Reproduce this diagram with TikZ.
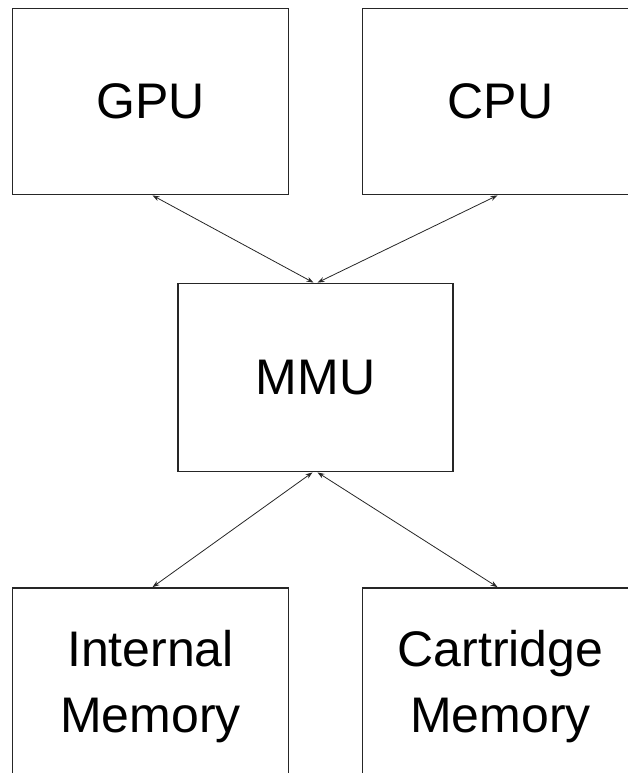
\documentclass[tikz,border=0pt]{standalone}
\usepackage{fontspec}
\setmainfont{Liberation Sans}
\usetikzlibrary{arrows.meta}
\begin{document}
\begin{tikzpicture}[x=1pt,y=-1pt,
  unitbox/.style={draw=black!85,line width=1.8pt,minimum width=276pt,minimum height=186pt,inner sep=0pt,align=center,font=\fontsize{50}{66}\selectfont},
  link/.style={line width=0.8pt,draw=black!85,{Stealth[length=7pt,width=5pt]}-{Stealth[length=7pt,width=5pt]}}]
\useasboundingbox (0,0) rectangle (628,773);
\clip (0,0) rectangle (628,773);
\node[unitbox] (gpu) at (150.5,101.5) {GPU};
\node[unitbox] (cpu) at (500.5,101.5) {CPU};
\node[unitbox,minimum width=275pt,minimum height=188pt] (mmu) at (315.5,377.5) {MMU};
\node[unitbox,minimum height=198pt] (imem) at (150.5,687) {Internal\\Memory};
\node[unitbox,minimum height=198pt] (cmem) at (500.5,687) {Cartridge\\Memory};
\draw[link] ([xshift=2pt]gpu.south) -- ([xshift=-2pt]mmu.north);
\draw[link] ([xshift=-3pt]cpu.south) -- ([xshift=2pt]mmu.north);
\draw[link] ([xshift=-3pt]mmu.south) -- ([xshift=2pt]imem.north);
\draw[link] ([xshift=2pt]mmu.south) -- ([xshift=-3pt]cmem.north);
\end{tikzpicture}
\end{document}
